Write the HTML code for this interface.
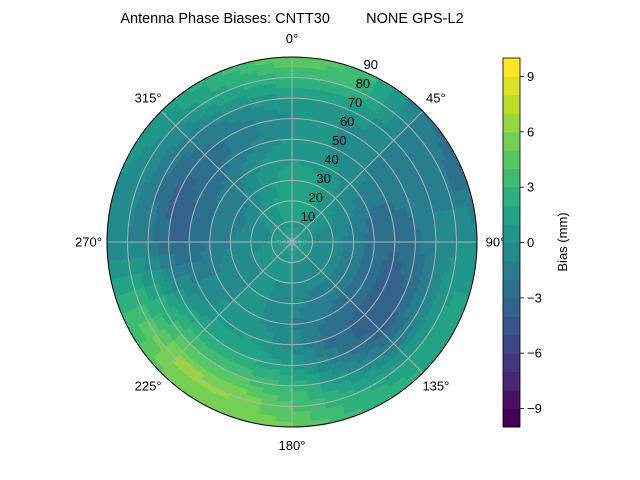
<!DOCTYPE html>
<html><head><meta charset="utf-8">
<style>
body{margin:0;background:#fff;}
svg{display:block;font-family:"Liberation Sans",sans-serif;}
</style></head>
<body>
<svg id="chart" width="640" height="480" viewBox="0 0 640 480">
<text x="292" y="23" text-anchor="middle" font-size="14.5" xml:space="preserve">Antenna Phase Biases: CNTT30         NONE GPS-L2</text>
<g id="field"></g>
<g id="grid"></g>
<g id="labels"></g>
<g id="cbar"></g>
</svg>
<script>
// azimuths (deg, clockwise from north) and zenith radii (deg)
const azimuths = [0,22.5,45,67.5,90,112.5,135,157.5,180,202.5,225,247.5,270,292.5,315,337.5];
const radii = [0,10,20,30,40,50,60,70,80,90];
// bias values (mm), one row per azimuth, columns over radii
const az000 = [0.5,1,1.5,2,1,0,0,1,3,5];
const az022 = [0.5,1,1.5,1.5,0.5,0,0,1,3,4];
const az045 = [0.5,0.5,0.5,0,-0.5,-1,-1,-1,-1,-2];
const az067 = [0.5,0,0,-1,-2,-2,-1.5,-1,-2,-3];
const az090 = [0.5,0,-0.5,-1.5,-2.5,-3,-2.5,-1,0,0];
const az112 = [0.5,0,-0.5,-1.5,-2.5,-3.5,-3,-1,1,1.5];
const az135 = [0.5,0,-0.5,-1.5,-2.5,-3.5,-3.5,-1.5,1,2];
const az157 = [0.5,0,-0.5,-1.5,-2,-2.5,-2,0,2,3];
const az180 = [0.5,0,0,-0.5,-1,-0.5,1,3,4,5];
const az202 = [0.5,0.5,0,0,0,1,2,4,6,6];
const az225 = [0.5,0.5,0,0,0,0.5,2,4,6.5,5];
const az247 = [0.5,0.5,0,-0.5,-1,-1,0,2,3,3];
const az270 = [0.5,0,-0.5,-1,-2,-3,-3,-1.5,-1,-1];
const az292 = [0.5,0,-0.5,-1.5,-2,-3,-3.5,-2,-0.5,0];
const az315 = [0.5,0.5,0,-1,-1.5,-2.5,-2.5,-1.5,0,1];
const az337 = [0.5,1,1,0.5,0,-1,-1.5,0,2,3];
const values = [az000,az022,az045,az067,az090,az112,az135,az157,az180,az202,az225,az247,az270,az292,az315,az337];
const cbarTicks = [-9,-6,-3,0,3,6,9];
const radialTicks = [10,20,30,40,50,60,70,80,90];
const angleTicks = [0,45,90,135,180,225,270,315];

const NS="http://www.w3.org/2000/svg";
const CX=292, CY=242, R=185, RMAX=90, VMIN=-10, VMAX=10, NLEV=20;
const rScale = r => r/RMAX*R;
const pt = (az,r)=>{const a=az*Math.PI/180, rr=rScale(r);return [CX+rr*Math.sin(a), CY-rr*Math.cos(a)];};
const vir=[[68,1,84],[72,36,117],[65,68,135],[53,95,141],[42,120,142],[33,145,140],[34,168,132],[68,191,112],[122,209,81],[189,223,38],[253,231,37]];
function viridis(t){t=Math.max(0,Math.min(1,t))*10;const i=Math.min(9,Math.floor(t)),f=t-i;const a=vir[i],b=vir[i+1];
 return `rgb(${Math.round(a[0]+(b[0]-a[0])*f)},${Math.round(a[1]+(b[1]-a[1])*f)},${Math.round(a[2]+(b[2]-a[2])*f)})`;}
function levelColor(v){let k=Math.floor((v-VMIN)/(VMAX-VMIN)*NLEV);k=Math.max(0,Math.min(NLEV-1,k));return viridis(k/(NLEV-1));}
function mk(tag,attrs,parent){const e=document.createElementNS(NS,tag);for(const k in attrs)e.setAttribute(k,attrs[k]);parent.appendChild(e);return e;}

// field cells with bilinear subdivision
const field=document.getElementById('field');
const SUB=4, nA=azimuths.length;
function val(ai,rf){const i0=((ai%nA)+nA)%nA;return values[i0][rf];}
for(let i=0;i<nA;i++){
 for(let j=0;j<radii.length-1;j++){
  const a0=azimuths[i], a1=(i+1<nA?azimuths[i+1]:360);
  for(let si=0;si<SUB;si++)for(let sj=0;sj<SUB;sj++){
   const fa=(si+0.5)/SUB, fr=(sj+0.5)/SUB;
   const v=(1-fa)*(1-fr)*val(i,j)+fa*(1-fr)*val(i+1,j)+(1-fa)*fr*val(i,j+1)+fa*fr*val(i+1,j+1);
   const b0=a0+(a1-a0)*si/SUB-0.3, b1=a0+(a1-a0)*(si+1)/SUB+0.3;
   const r0=radii[j]+(radii[j+1]-radii[j])*sj/SUB, r1=radii[j]+(radii[j+1]-radii[j])*(sj+1)/SUB+0.4;
   const p1=pt(b0,r0),p2=pt(b0,r1),p3=pt(b1,r1),p4=pt(b1,r0);
   const rr1=rScale(Math.min(r1,RMAX)), rr0=rScale(r0);
   const P2=pt(b0,Math.min(r1,RMAX)),P3=pt(b1,Math.min(r1,RMAX));
   const d=`M${p1[0]},${p1[1]}L${P2[0]},${P2[1]}A${rr1},${rr1} 0 0 1 ${P3[0]},${P3[1]}L${p4[0]},${p4[1]}A${rr0},${rr0} 0 0 0 ${p1[0]},${p1[1]}Z`;
   const c=mk('path',{d:d,fill:levelColor(v)},field);
   
   
  }
 }
}
// grid
const grid=document.getElementById('grid');
radialTicks.forEach(t=>{const c=mk('circle',{cx:CX,cy:CY,r:rScale(t),fill:'none',stroke:'#b0b0b0','stroke-width':1},grid);
 });
angleTicks.forEach(a=>{const p=pt(a,RMAX);const l=mk('line',{x1:CX,y1:CY,x2:p[0],y2:p[1],stroke:'#b0b0b0','stroke-width':1},grid);
 });
const border=mk('circle',{cx:CX,cy:CY,r:R,fill:'none',stroke:'#000','stroke-width':1},grid);

// labels
const labels=document.getElementById('labels');
angleTicks.forEach(a=>{const p=pt(a,RMAX*1.1);const t=mk('text',{x:p[0],y:p[1]+4.5,'text-anchor':'middle','font-size':13},labels);
 t.textContent=a+'°';});
radialTicks.forEach(r=>{const p=pt(22.5,r);const t=mk('text',{x:p[0]+8,y:p[1]-2,'text-anchor':'middle','font-size':13},labels);
 t.textContent=r;});
// colorbar
const cb=document.getElementById('cbar');
const CBX=503,CBW=17,CBT=58,CBB=427;
const cy=v=>CBB-(v-VMIN)/(VMAX-VMIN)*(CBB-CBT);
for(let k=0;k<NLEV;k++){const v0=VMIN+k*(VMAX-VMIN)/NLEV,v1=v0+(VMAX-VMIN)/NLEV;
 const r=mk('rect',{x:CBX,y:cy(v1),width:CBW,height:cy(v0)-cy(v1)+0.5,fill:viridis(k/(NLEV-1))},cb);
 }
const fr=mk('rect',{x:CBX,y:CBT,width:CBW,height:CBB-CBT,fill:'none',stroke:'#000','stroke-width':0.8},cb);

cbarTicks.forEach(v=>{const y=cy(v);
 const l=mk('line',{x1:CBX+CBW,x2:CBX+CBW+4,y1:y,y2:y,stroke:'#000','stroke-width':0.8},cb);
 
 const t=mk('text',{x:CBX+CBW+7,y:y+4.5,'font-size':13},cb);t.textContent=v<0?'\u2212'+(-v):String(v);
 });
const ct=mk('text',{x:567,y:242,'text-anchor':'middle','font-size':13,transform:'rotate(-90 567 242)'},cb);
ct.textContent='Bias (mm)';
</script>
</body></html>
